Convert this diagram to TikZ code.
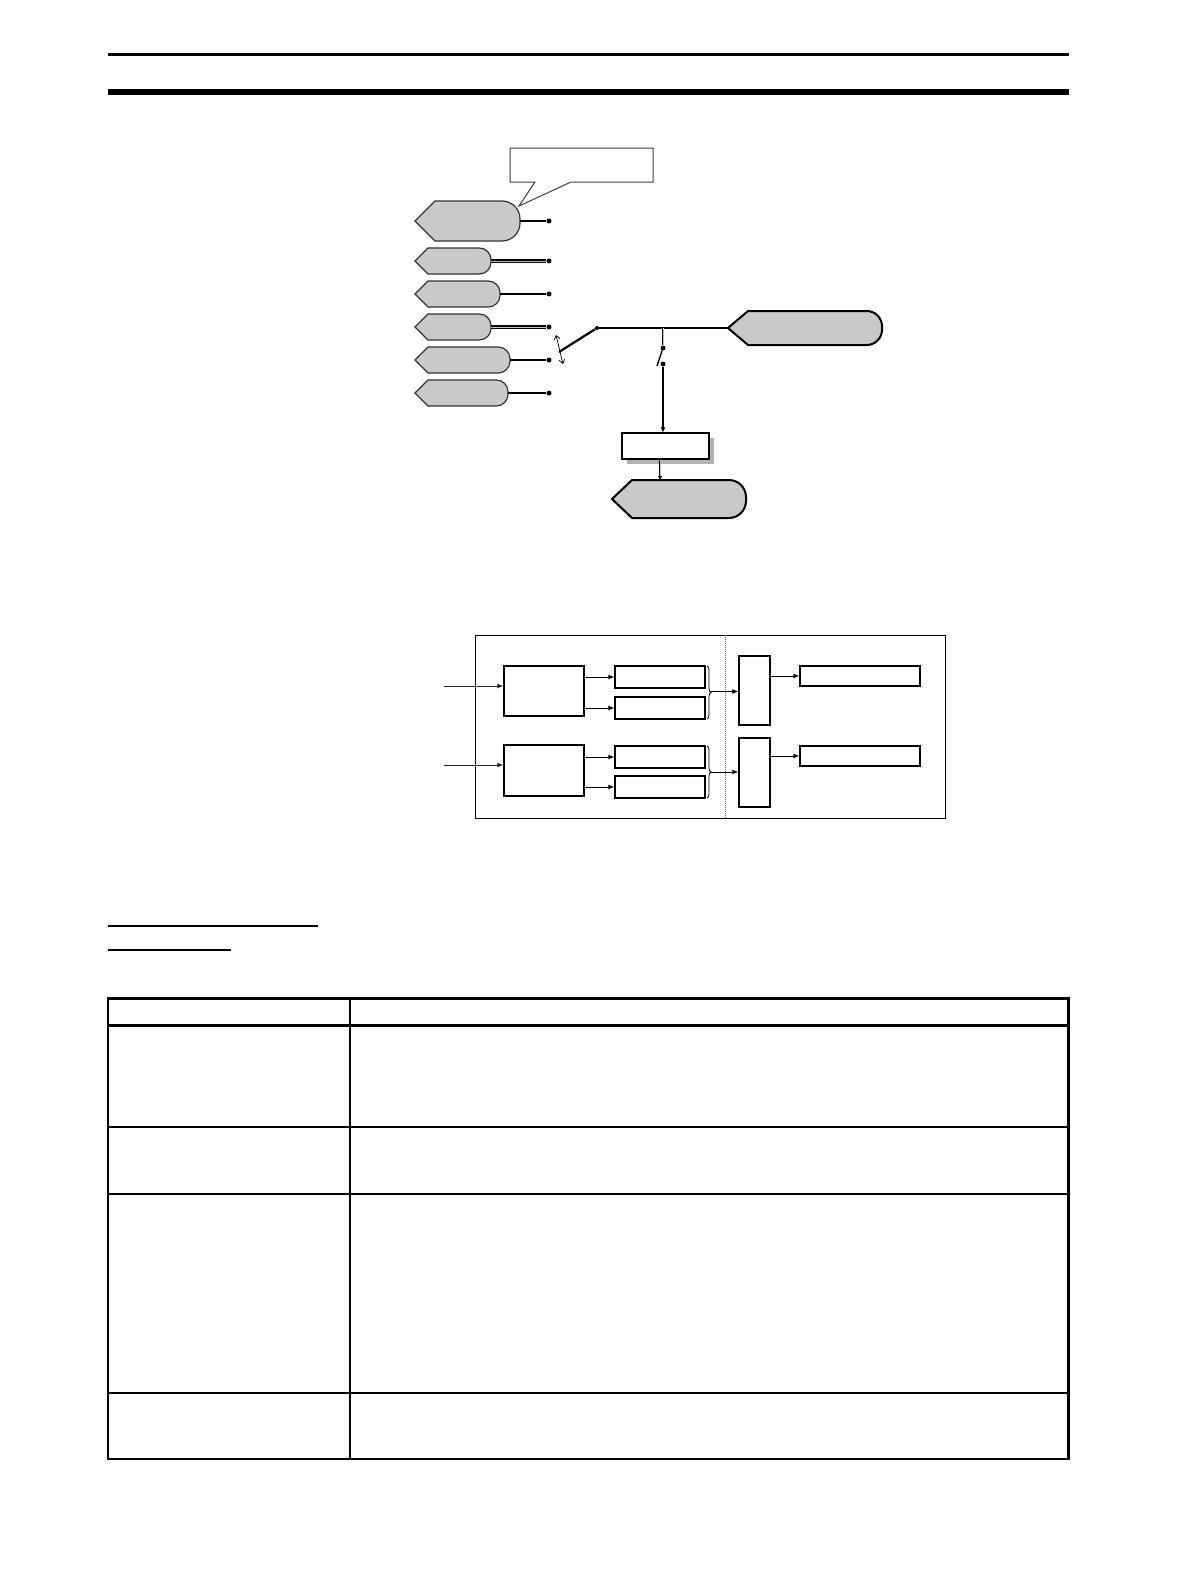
\documentclass[tikz,border=0pt]{standalone}
\usetikzlibrary{arrows.meta,decorations.pathreplacing,calc}
\definecolor{pfill}{gray}{0.79}
\definecolor{pline}{gray}{0.2}
\tikzset{
  pent/.style={fill=pfill,draw=pline,line width=1.2pt},
  pentb/.style={fill=pfill,draw=black,line width=2pt},
  thickcon/.style={line width=2.6pt,black},
  dblcon/.style={line width=1.1pt,black,double=gray!50,double distance=0.9pt},
  dotn/.style={circle,fill=black,inner sep=0pt,minimum size=5pt},
  sbox/.style={draw,line width=1.2pt,inner sep=0pt,fill=white},
  arr/.style={-{Latex[length=6pt,width=5pt]},line width=1pt},
  tline/.style={line width=1.5pt},
}
% pentagon arrow shape: style, name, x-left, x-right, y-centre, height, notch depth
\newcommand{\pentshape}[7]{%
  \path[#1] (#3,#5) -- (#3+#7,#5-#6/2)
    {[rounded corners=0.45*#6] -- (#4,#5-#6/2) -- (#4,#5+#6/2)}
    -- (#3+#7,#5+#6/2) -- cycle;
  \coordinate (#2) at (#4,#5);
  \coordinate (#2-l) at (#3,#5);}
\begin{document}
\begin{tikzpicture}[x=1pt,y=-1pt]
\useasboundingbox (0,0) rectangle (1190,1584);
% header rules
\fill (108,53.5) rectangle (1069,56.5);
\fill (108,89.5) rectangle (1069,95);

% callout
\path[draw=black!75,line width=1pt,fill=white] (510,148) -- (653,148) -- (653,182) -- (571,182)
  -- (519,206) -- (535,182) -- (510,182) -- cycle;

% left shapes
\pentshape{pent}{s1}{415}{520}{221}{40}{20}
\pentshape{pent}{s2}{415}{491}{261}{26}{13}
\pentshape{pent}{s3}{415}{500}{294}{26}{13}
\pentshape{pent}{s4}{415}{491}{327}{26}{13}
\pentshape{pent}{s5}{415}{510}{360}{26}{13}
\pentshape{pent}{s6}{415}{508}{393}{26}{13}
\foreach \n/\y in {1/221,2/261,3/294,4/327,5/360,6/393}{
  \node[dotn] (d\n) at (549,\y) {};}
\draw[thickcon] (s1) -- (d1);
\draw[dblcon] (s2) -- (d2);
\draw[thickcon] (s3) -- (d3);
\draw[dblcon] (s4) -- (d4);
\draw[thickcon] (s5) -- (d5);
\draw[thickcon] (s6) -- (d6);

% selector switch
\coordinate (piv) at (559,352);
\node[circle,fill=black,inner sep=0pt,minimum size=4pt] (lt) at (597,328) {};
\draw[line width=2.2pt] (piv) -- (lt);
\draw[{Straight Barb[length=4pt,width=6pt]}-{Straight Barb[length=4pt,width=6pt]},line width=0.7pt]
  (556,335) -- (563,364);

% right output shape
\pentshape{pentb}{ro}{728}{882}{328}{34}{20}
\coordinate (jn) at (663,328);
\draw[line width=2.2pt] (lt) -- (ro-l);
\node[dotn] (sw1) at (663,348) {};
\node[dotn] (sw2) at (663,364) {};
\draw[dblcon,line width=1pt] (jn) -- (sw1);
\draw[line width=1.4pt] (sw1) -- (657,366);

% box with shadow and lower shape
\fill[gray!60] (627,438) rectangle (714,464);
\node[sbox,minimum width=87pt,minimum height=26pt] (bx) at (665.5,446) {};
\draw[line width=2.4pt,-{Latex[length=5pt,width=5pt]}] (sw2) -- (bx.north -| sw2);
\pentshape{pentb}{bo}{612}{746}{499}{38}{20}
\draw[dblcon,line width=1pt,-{Latex[length=4pt,width=5pt]}] (bx.south -| 660,0) -- (660,480);

% second diagram
\node[draw,line width=1pt,inner sep=0pt,minimum width=470pt,minimum height=183pt] (frame) at (710,726.5) {};
\draw[densely dotted,line width=1pt,gray!70!black] (725,635) -- (725,818);
\node[sbox,minimum width=80pt,minimum height=50pt] (a1) at (544,691) {};
\node[sbox,minimum width=80pt,minimum height=51pt] (a2) at (544,770.5) {};
\node[sbox,minimum width=90pt,minimum height=22pt] (b1) at (660,677) {};
\node[sbox,minimum width=90pt,minimum height=22pt] (b2) at (660,708) {};
\node[sbox,minimum width=90pt,minimum height=22pt] (b3) at (660,757) {};
\node[sbox,minimum width=90pt,minimum height=22pt] (b4) at (660,787) {};
\node[sbox,minimum width=31pt,minimum height=69pt] (c1) at (754.5,690.5) {};
\node[sbox,minimum width=31pt,minimum height=69pt] (c2) at (754.5,772.5) {};
\node[sbox,minimum width=120pt,minimum height=20pt] (e1) at (860,676) {};
\node[sbox,minimum width=120pt,minimum height=20pt] (e2) at (860,756) {};
\coordinate (in1) at (444,686);
\coordinate (in2) at (444,765);
\draw[arr,gray!30!black] (in1) -- (in1 -| a1.west);
\draw[arr,gray!30!black] (in2) -- (in2 -| a2.west);
\draw[arr] (a1.east |- b1) -- (b1.west);
\draw[arr] (a1.east |- b2) -- (b2.west);
\draw[arr] (a2.east |- b3) -- (b3.west);
\draw[arr] (a2.east |- b4) -- (b4.west);
\draw[decorate,decoration={brace,amplitude=4pt},line width=0.8pt] (707,666) -- (707,719);
\draw[decorate,decoration={brace,amplitude=4pt},line width=0.8pt] (707,746) -- (707,798);
\coordinate (br1) at (711,691.5);
\coordinate (br2) at (711,772);
\draw[arr] (br1) -- (br1 -| c1.west);
\draw[arr] (br2) -- (br2 -| c2.west);
\draw[arr] (c1.east |- e1) -- (e1.west);
\draw[arr] (c2.east |- e2) -- (e2.west);

% underlines
\draw[line width=1.6pt] (108,926) -- (318,926);
\draw[line width=1.6pt] (108,950) -- (231,950);

% table
\draw[line width=2.8pt] (108,998.5) rectangle (1068.5,1459);
\draw[line width=2.8pt] (108,1025.5) -- (1068.5,1025.5);
\draw[tline] (350,998.5) -- (350,1459);
\foreach \y in {1127,1194,1393}{\draw[tline] (108,\y) -- (1068.5,\y);}
\end{tikzpicture}
\end{document}
